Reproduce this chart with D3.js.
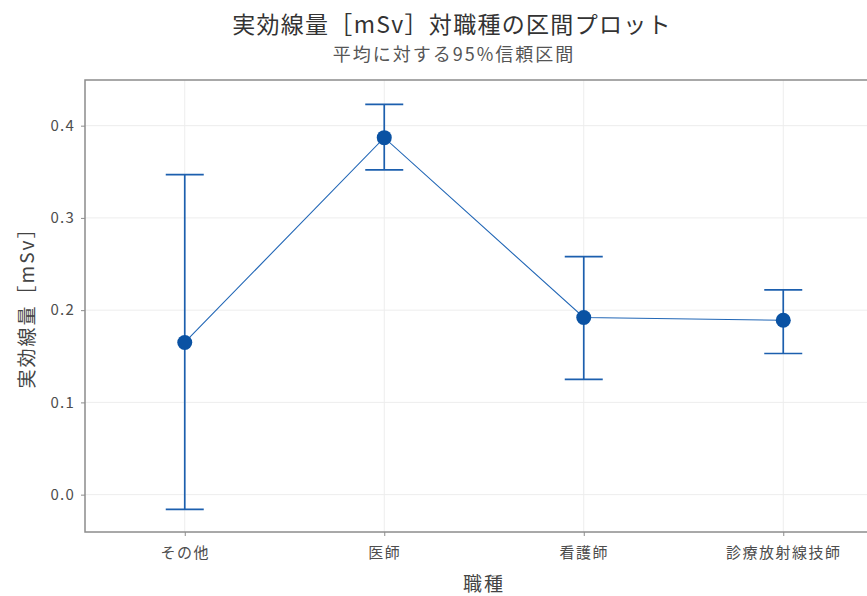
<!DOCTYPE html>
<html>
<head>
<meta charset="utf-8">
<script src="https://cdn.jsdelivr.net/npm/d3@7"></script>
<style>
  html, body { margin: 0; padding: 0; background: #fff; }
  svg { display: block; }
  text { font-family: "Noto Sans CJK JP", "Noto Sans", sans-serif; }
</style>
</head>
<body>
<svg id="chart" width="867" height="596"></svg>
<script>
// 職種ごとの実効線量の平均と95%信頼区間
const categories = ["その他", "医師", "看護師", "診療放射線技師"];
const means = [0.165, 0.387, 0.192, 0.189];
const lower = [-0.016, 0.352, 0.125, 0.153];
const upper = [0.347, 0.423, 0.258, 0.222];
const yTicks = [0.0, 0.1, 0.2, 0.3, 0.4];

const titleText = "実効線量［mSv］対職種の区間プロット";
const subtitleText = "平均に対する95%信頼区間";
const xTitle = "職種";
const yTitle = "実効線量［mSv］";

const W = 867, H = 596;
const plot = { left: 85, right: 883, top: 80, bottom: 532 };

const svg = d3.select("#chart");

const x = d3.scalePoint()
  .domain(categories)
  .range([plot.left, plot.right])
  .padding(0.5);

const y = d3.scaleLinear()
  .domain([-0.0405, 0.4495])
  .range([plot.bottom, plot.top]);

const rows = categories.map((c, i) => ({ cat: c, mean: means[i], lo: lower[i], hi: upper[i] }));

// grid
const grid = svg.append("g");
grid.selectAll("line.h").data(yTicks).join("line")
  .attr("x1", plot.left).attr("x2", plot.right)
  .attr("y1", d => y(d)).attr("y2", d => y(d))
  .attr("stroke", "#ededed").attr("stroke-width", 1);
grid.selectAll("line.v").data(categories).join("line")
  .attr("x1", d => x(d)).attr("x2", d => x(d))
  .attr("y1", plot.top).attr("y2", plot.bottom)
  .attr("stroke", "#ededed").attr("stroke-width", 1);

// frame
svg.append("rect")
  .attr("x", plot.left).attr("y", plot.top)
  .attr("width", plot.right - plot.left).attr("height", plot.bottom - plot.top)
  .attr("fill", "none").attr("stroke", "#8c8c8c").attr("stroke-width", 1.5);

// axes
const yAxis = svg.append("g")
  .attr("transform", `translate(${plot.left},0)`)
  .call(d3.axisLeft(y).tickValues(yTicks).tickFormat(d3.format(".1f")).tickSize(4).tickPadding(6));
const xAxis = svg.append("g")
  .attr("transform", `translate(0,${plot.bottom})`)
  .call(d3.axisBottom(x).tickSize(4).tickPadding(11));
[yAxis, xAxis].forEach(a => {
  a.select(".domain").remove();
  a.selectAll(".tick line").attr("stroke", "#8c8c8c").attr("stroke-width", 1);
  a.selectAll(".tick text").attr("fill", "#4d4d4d").attr("font-family", '"Noto Sans CJK JP", sans-serif');
});
yAxis.selectAll(".tick text").attr("font-size", 15).attr("letter-spacing", 1.2);
xAxis.selectAll(".tick text").attr("font-size", 15).attr("letter-spacing", 1.5);

// line joining means
const blueLine = "#2267b6";
svg.append("path")
  .datum(rows)
  .attr("fill", "none")
  .attr("stroke", blueLine)
  .attr("stroke-width", 1.1)
  .attr("d", d3.line().x(d => x(d.cat)).y(d => y(d.mean)));

// error bars
const capHalf = 19;
const eb = svg.append("g").attr("stroke", "#1c5fae").attr("stroke-width", 1.7).attr("fill", "none");
eb.selectAll("line.stem").data(rows).join("line")
  .attr("x1", d => x(d.cat)).attr("x2", d => x(d.cat))
  .attr("y1", d => y(d.lo)).attr("y2", d => y(d.hi));
eb.selectAll("line.top").data(rows).join("line")
  .attr("x1", d => x(d.cat) - capHalf).attr("x2", d => x(d.cat) + capHalf)
  .attr("y1", d => y(d.hi)).attr("y2", d => y(d.hi));
eb.selectAll("line.bot").data(rows).join("line")
  .attr("x1", d => x(d.cat) - capHalf).attr("x2", d => x(d.cat) + capHalf)
  .attr("y1", d => y(d.lo)).attr("y2", d => y(d.lo));

// mean points
svg.selectAll("circle.pt").data(rows).join("circle")
  .attr("cx", d => x(d.cat)).attr("cy", d => y(d.mean))
  .attr("r", 7.5).attr("fill", "#0a52a3");

// titles
svg.append("text").attr("x", 452).attr("y", 33).attr("text-anchor", "middle")
  .attr("font-size", 23).attr("letter-spacing", 1.3).attr("fill", "#333").text(titleText);
svg.append("text").attr("x", 454).attr("y", 61).attr("text-anchor", "middle")
  .attr("font-size", 18).attr("letter-spacing", 2).attr("fill", "#555").text(subtitleText);
svg.append("text").attr("x", (plot.left + plot.right) / 2).attr("y", 591).attr("text-anchor", "middle")
  .attr("font-size", 19).attr("letter-spacing", 2).attr("fill", "#444").text(xTitle);
svg.append("text").attr("transform", "translate(34,303) rotate(-90)").attr("text-anchor", "middle")
  .attr("font-size", 19).attr("letter-spacing", 2).attr("fill", "#444").text(yTitle);
</script>
</body>
</html>
